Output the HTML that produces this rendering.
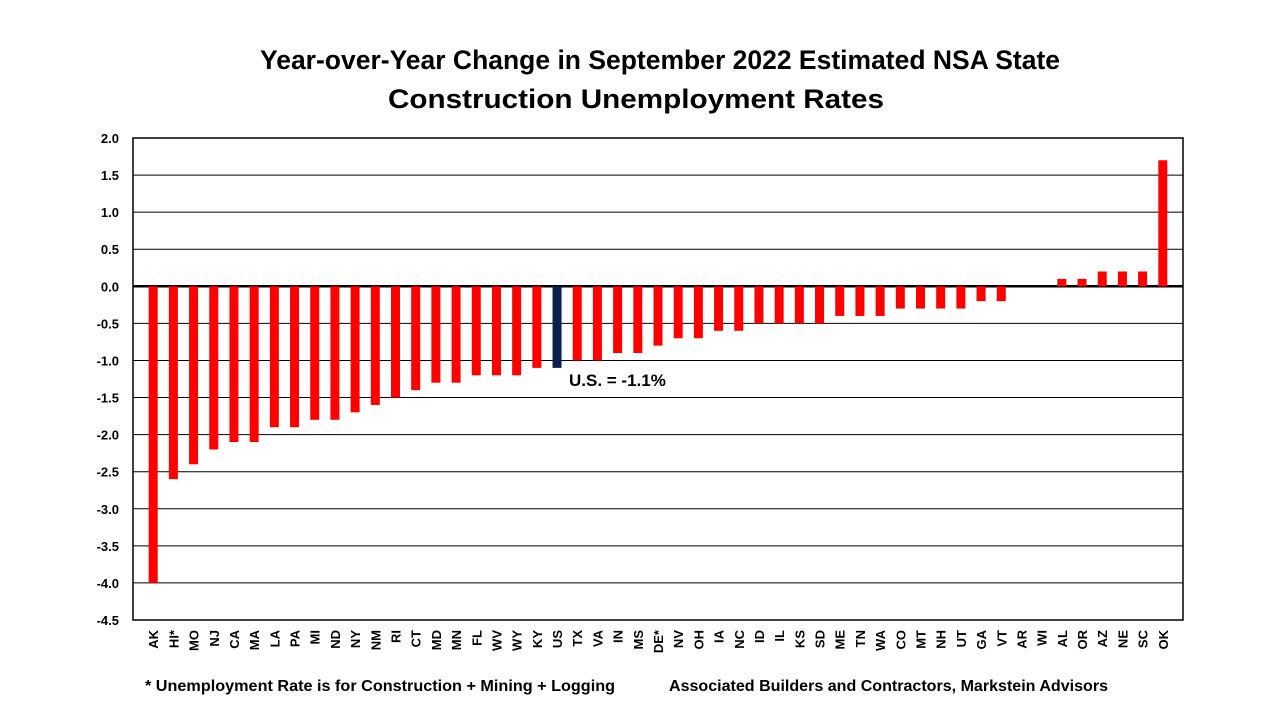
<!DOCTYPE html>
<html><head><meta charset="utf-8"><style>
body{margin:0;background:#fff;font-family:"Liberation Sans",Arial,sans-serif}
</style></head><body>
<svg width="1280" height="720" xmlns="http://www.w3.org/2000/svg">
<text x="260" y="69" font-size="27" font-weight="bold" textLength="800" lengthAdjust="spacingAndGlyphs">Year-over-Year Change in September 2022 Estimated NSA State</text>
<text x="388" y="108" font-size="27" font-weight="bold" textLength="496" lengthAdjust="spacingAndGlyphs">Construction Unemployment Rates</text>
<g id="grid"></g><g id="bars"></g><g id="labels"></g>
<rect x="133" y="138" width="1050" height="482" fill="none" stroke="#000" stroke-width="1.5"/>
<text x="569" y="386" font-size="17" font-weight="bold">U.S. = -1.1%</text>
<text x="145" y="691" font-size="16" font-weight="bold" textLength="470" lengthAdjust="spacingAndGlyphs">* Unemployment Rate is for Construction + Mining + Logging</text>
<text x="669" y="691" font-size="16" font-weight="bold" textLength="439" lengthAdjust="spacingAndGlyphs">Associated Builders and Contractors, Markstein Advisors</text>
</svg>
<script>
const categories=["AK","HI*","MO","NJ","CA","MA","LA","PA","MI","ND","NY","NM","RI","CT","MD","MN","FL","WV","WY","KY","US","TX","VA","IN","MS","DE*","NV","OH","IA","NC","ID","IL","KS","SD","ME","TN","WA","CO","MT","NH","UT","GA","VT","AR","WI","AL","OR","AZ","NE","SC","OK"];
const values=[-4.0,-2.6,-2.4,-2.2,-2.1,-2.1,-1.9,-1.9,-1.8,-1.8,-1.7,-1.6,-1.5,-1.4,-1.3,-1.3,-1.2,-1.2,-1.2,-1.1,-1.1,-1.0,-1.0,-0.9,-0.9,-0.8,-0.7,-0.7,-0.6,-0.6,-0.5,-0.5,-0.5,-0.5,-0.4,-0.4,-0.4,-0.3,-0.3,-0.3,-0.3,-0.2,-0.2,0,0,0.1,0.1,0.2,0.2,0.2,1.7];
const yTicks=[2.0,1.5,1.0,0.5,0.0,-0.5,-1.0,-1.5,-2.0,-2.5,-3.0,-3.5,-4.0,-4.5];
const NS="http://www.w3.org/2000/svg";
const y=v=>138+(2.0-v)/6.5*482;
const x=i=>133+1050/52*(i+1);
const grid=document.getElementById('grid'),bars=document.getElementById('bars'),labels=document.getElementById('labels');
function mk(tag,attrs,parent){const e=document.createElementNS(NS,tag);for(const k in attrs)e.setAttribute(k,attrs[k]);parent.appendChild(e);return e;}
yTicks.forEach(t=>{
  const l=mk('line',{x1:133,x2:1183,y1:y(t),y2:y(t),stroke:'#000','stroke-width':t===0?2.5:1},grid);
  
  
  const tx=mk('text',{x:119,y:y(t)+5,'text-anchor':'end','font-size':13,'font-weight':'bold'},labels);
  tx.textContent=t.toFixed(1);
  
  
});
categories.forEach((c,i)=>{
  const v=values[i];
  const top=Math.min(y(v),y(0)),h=Math.abs(y(v)-y(0));
  const r=mk('rect',{x:x(i)-4.5,y:top,width:9,height:h,fill:c==='US'?'#0b1f4f':'#ff0000'},bars);
  
  
  const t=mk('text',{'font-size':13,'font-weight':'bold','text-anchor':'end',transform:`translate(${x(i)+5},630) rotate(-90)`},labels);
  t.textContent=c;
  
  
});
</script>
</body></html>
